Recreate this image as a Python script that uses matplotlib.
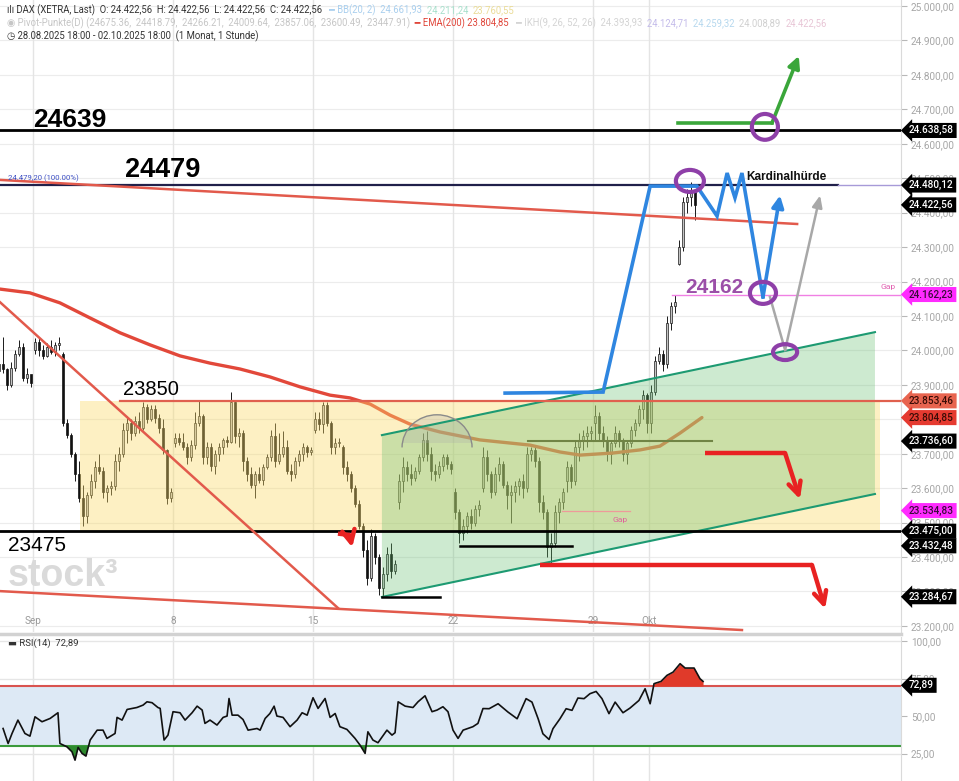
import numpy as np
import matplotlib.pyplot as plt
from matplotlib.patches import Ellipse, Arc, Polygon, Rectangle
from matplotlib.transforms import blended_transform_factory

plt.rcParams["font.family"] = ["Roboto", "DejaVu Sans"]

# ---------- data -------------------------------------------------------
# x axis in trading days, Sep 1 session start = 0, seven 2h bars per session
sessions = [(-2, 5, 2), (-1, 0, 7)] + [(d, 0, 7) for d in range(23)] + [(23, 0, 5)]

opens = [
    23940, 23960,                                           # 28.08
    23945, 23900, 23950, 23990, 24010, 23920, 23930,        # 29.08
    24000, 24025, 24000, 23985, 24010, 23995, 24015,        # 01.09
    23990, 23790, 23755, 23700, 23640, 23570, 23520,        # 02.09
    23580, 23620, 23660, 23650, 23590, 23600, 23605,        # 03.09
    23680, 23700, 23770, 23790, 23760, 23795, 23775,        # 04.09
    23835, 23800, 23830, 23805, 23775, 23710, 23570,        # 05.09
    23730, 23745, 23735, 23720, 23690, 23725, 23790,        # 08.09
    23810, 23690, 23720, 23665, 23700, 23720, 23740,        # 09.09
    23735, 23850, 23750, 23760, 23680, 23640, 23610,        # 10.09
    23640, 23625, 23660, 23690, 23750, 23680, 23700,        # 11.09
    23720, 23650, 23640, 23680, 23700, 23720, 23705,        # 12.09
    23770, 23800, 23785, 23840, 23790, 23720, 23730,        # 15.09
    23720, 23660, 23640, 23600, 23555, 23490, 23420,        # 16.09
    23340, 23460, 23400, 23310, 23350, 23410, 23360,        # 17.09
    23560, 23620, 23660, 23640, 23630, 23650, 23690,        # 18.09
    23740, 23700, 23650, 23640, 23665, 23690, 23670,        # 19.09
    23590, 23530, 23470, 23490, 23520, 23500, 23540,        # 22.09
    23600, 23690, 23640, 23590, 23640, 23670, 23610,        # 23.09
    23580, 23590, 23605, 23620, 23600, 23700, 23710,        # 24.09
    23680, 23560, 23530, 23430, 23440, 23530, 23560,        # 25.09
    23620, 23660, 23620, 23720, 23740, 23750, 23760,        # 26.09
    23790, 23810, 23760, 23740, 23700, 23730, 23760,        # 29.09
    23740, 23700, 23730, 23770, 23790, 23830, 23870,        # 30.09
    23790, 23880, 23970, 23990, 23960, 24080, 24130,        # 01.10
    24250, 24300, 24430, 24445, 24460,                      # 02.10
]
highs = [
    23990, 24040,
    23950, 23965, 24000, 24030, 24020, 23950, 23920,
    24035, 24040, 24015, 24020, 24030, 24025, 24040,
    23995, 23800, 23760, 23705, 23680, 23610, 23590,
    23640, 23680, 23700, 23660, 23610, 23620, 23700,
    23720, 23790, 23810, 23800, 23810, 23820, 23850,
    23845, 23840, 23840, 23815, 23800, 23715, 23600,
    23760, 23760, 23760, 23730, 23740, 23820, 23855,
    23815, 23735, 23730, 23710, 23730, 23745, 23750,
    23880, 23855, 23775, 23770, 23690, 23660, 23650,
    23660, 23670, 23700, 23770, 23790, 23760, 23765,
    23740, 23670, 23690, 23710, 23730, 23725, 23720,
    23820, 23820, 23850, 23850, 23795, 23745, 23745,
    23725, 23680, 23650, 23610, 23565, 23500, 23450,
    23480, 23470, 23410, 23370, 23430, 23440, 23390,
    23640, 23690, 23680, 23670, 23660, 23700, 23760,
    23765, 23720, 23670, 23680, 23700, 23700, 23680,
    23600, 23540, 23510, 23530, 23540, 23550, 23565,
    23720, 23710, 23650, 23660, 23690, 23680, 23620,
    23610, 23620, 23630, 23640, 23720, 23720, 23720,
    23690, 23580, 23540, 23470, 23550, 23570, 23600,
    23680, 23670, 23740, 23760, 23770, 23780, 23780,
    23840, 23820, 23780, 23750, 23740, 23780, 23770,
    23745, 23740, 23780, 23800, 23840, 23885, 23875,
    23900, 23985, 24010, 24000, 24100, 24140, 24162,
    24320, 24445, 24470, 24490, 24470,
]
lows = [
    23925, 23935,
    23885, 23895, 23940, 23985, 23910, 23905, 23895,
    23990, 23985, 23975, 23980, 23990, 23985, 24000,
    23780, 23745, 23690, 23620, 23560, 23490, 23500,
    23570, 23600, 23640, 23570, 23560, 23580, 23595,
    23650, 23690, 23730, 23740, 23750, 23760, 23770,
    23790, 23795, 23790, 23760, 23700, 23555, 23560,
    23720, 23725, 23710, 23670, 23680, 23715, 23780,
    23670, 23670, 23650, 23640, 23680, 23700, 23720,
    23730, 23730, 23720, 23650, 23620, 23600, 23570,
    23615, 23610, 23655, 23680, 23660, 23670, 23690,
    23640, 23620, 23630, 23665, 23680, 23690, 23695,
    23760, 23770, 23760, 23780, 23700, 23700, 23720,
    23640, 23620, 23590, 23545, 23480, 23400, 23320,
    23330, 23380, 23290, 23285, 23330, 23340, 23350,
    23540, 23590, 23620, 23610, 23620, 23640, 23680,
    23680, 23625, 23620, 23630, 23650, 23655, 23640,
    23510, 23440, 23450, 23470, 23480, 23490, 23520,
    23590, 23620, 23570, 23580, 23620, 23600, 23540,
    23500, 23560, 23580, 23570, 23590, 23680, 23660,
    23530, 23510, 23400, 23380, 23430, 23500, 23540,
    23590, 23600, 23610, 23680, 23710, 23720, 23740,
    23740, 23740, 23720, 23680, 23670, 23720, 23720,
    23680, 23670, 23720, 23750, 23780, 23800, 23760,
    23760, 23870, 23960, 23940, 23950, 24060, 24110,
    24248, 24290, 24400, 24420, 24380,
]
closes = [
    23960, 23945,
    23900, 23950, 23990, 24010, 23920, 23930, 23905,
    24025, 24000, 23985, 24010, 23995, 24015, 24020,
    23790, 23755, 23700, 23640, 23570, 23520, 23580,
    23620, 23660, 23650, 23590, 23600, 23605, 23680,
    23700, 23770, 23790, 23760, 23795, 23775, 23835,
    23800, 23830, 23805, 23775, 23710, 23570, 23590,
    23745, 23735, 23720, 23690, 23725, 23790, 23810,
    23690, 23720, 23665, 23700, 23720, 23740, 23735,
    23850, 23750, 23760, 23680, 23640, 23610, 23640,
    23625, 23660, 23690, 23750, 23680, 23700, 23720,
    23650, 23640, 23680, 23700, 23720, 23705, 23710,
    23800, 23785, 23840, 23790, 23720, 23730, 23735,
    23660, 23640, 23600, 23555, 23490, 23420, 23340,
    23460, 23400, 23310, 23350, 23410, 23360, 23380,
    23620, 23660, 23640, 23630, 23650, 23690, 23740,
    23700, 23650, 23640, 23665, 23690, 23670, 23655,
    23530, 23470, 23490, 23520, 23500, 23540, 23550,
    23690, 23640, 23590, 23640, 23670, 23610, 23580,
    23590, 23605, 23620, 23600, 23700, 23710, 23680,
    23560, 23530, 23430, 23440, 23530, 23560, 23590,
    23660, 23620, 23720, 23740, 23750, 23760, 23765,
    23810, 23760, 23740, 23700, 23730, 23760, 23740,
    23700, 23730, 23770, 23790, 23830, 23870, 23790,
    23880, 23970, 23990, 23960, 24080, 24130, 24140,
    24300, 24430, 24445, 24460, 24422.56,
]

ema_x = [-1.18, -0.11, 0.96, 2.04, 3.11, 4.18, 5.25, 6.32, 7.39, 8.46, 9.54, 10.61,
         11.32, 12.04, 12.75, 13.46, 14.54, 15.96, 17.75, 18.82, 19.54, 20.71,
         21.68, 22.39, 23.11, 23.89]
ema_v = [24178, 24167, 24138, 24094, 24051, 24016, 23984, 23963, 23946, 23923, 23894, 23870,
         23862, 23844, 23812, 23786, 23763, 23740, 23725, 23705, 23696, 23702,
         23711, 23722, 23760, 23805]

rsi_x = [-1.07, -0.89, -0.75, -0.54, -0.29, -0.11, 0.07, 0.32, 0.61, 0.89,
         0.96, 1.21, 1.39, 1.5, 1.61, 1.75, 1.89, 2.04, 2.29, 2.5,
         2.64, 2.93, 3.0, 3.18, 3.36, 3.71, 3.93, 4.07, 4.25, 4.46,
         4.54, 4.68, 4.82, 5.0, 5.25, 5.43, 5.68, 5.86, 6.04, 6.14,
         6.32, 6.57, 6.79, 6.93, 7.0, 7.11, 7.32, 7.5, 7.68, 8.0,
         8.11, 8.29, 8.46, 8.61, 8.71, 8.93, 9.18, 9.43, 9.61, 9.79,
         10.0, 10.18, 10.43, 10.61, 10.79, 10.96, 11.21, 11.5, 11.68, 11.86,
         11.96, 12.14, 12.32, 12.64, 12.82, 12.93, 13.04, 13.29, 13.57, 13.75,
         14.0, 14.25, 14.43, 14.64, 14.82, 15.0, 15.18, 15.36, 15.71, 15.89,
         16.07, 16.29, 16.61, 16.96, 17.29, 17.61, 17.82, 18.04, 18.21, 18.43,
         18.57, 18.82, 19.04, 19.25, 19.46, 19.68, 19.89, 20.11, 20.32, 20.57,
         20.79, 21.07, 21.32, 21.64, 21.86, 22.04, 22.18, 22.43, 22.64, 22.86,
         23.11, 23.29, 23.61, 23.82, 23.93]
rsi_v = [41.7, 31.7, 38.4, 47.3, 38.4, 36.6, 49.5, 46.2, 48.4, 52.2,
         31.7, 29.5, 26.2, 20.6, 29.1, 25.1, 23.3, 34.0, 40.6, 40.6,
         35.1, 38.4, 49.1, 47.3, 54.4, 55.7, 57.3, 59.5, 58.9, 55.7,
         55.1, 34.0, 37.3, 52.9, 52.2, 47.3, 52.2, 56.6, 54.0, 45.1,
         47.3, 44.0, 49.1, 50.0, 61.7, 50.6, 50.6, 47.7, 40.6, 41.7,
         40.6, 48.4, 51.7, 56.6, 50.0, 49.1, 42.9, 47.3, 52.2, 50.6,
         62.2, 55.1, 61.7, 49.1, 51.7, 42.9, 41.1, 35.1, 30.6, 25.1,
         39.5, 34.0, 32.2, 40.6, 37.3, 38.9, 59.5, 56.6, 55.7, 59.5,
         63.5, 52.9, 54.0, 56.2, 52.9, 40.6, 35.1, 40.6, 42.9, 45.1,
         55.0, 54.9, 58.2, 52.7, 48.2, 61.6, 59.3, 48.2, 38.2, 34.4,
         41.6, 48.2, 54.9, 53.8, 62.0, 61.6, 64.9, 66.4, 61.6, 51.6,
         59.3, 52.2, 55.3, 60.4, 68.2, 58.2, 71.6, 73.1, 77.1, 79.3,
         84.9, 82.0, 82.0, 74.9, 73.1]

# levels and drawings (trading-day x, price y)
date_ticks_x = [0, 5, 10, 15, 20, 22]
date_ticks_lbl = ["Sep", "8", "15", "22", "29", "Okt"]
price_ticks = [p for p in range(23200, 25001, 100) if p != 23800]
rsi_ticks = [100, 75, 50, 25]
badge_vals = [24638.58, 24480.12, 24422.56, 24162.23, 23853.46, 23804.85,
              23736.60, 23534.83, 23475.00, 23432.48, 23284.67]
badge_bg = ["black", "black", "black", "#ff2bff", "#e8644f", "#e53a30",
            "black", "#ff2bff", "black", "black", "black"]
badge_fg = ["white", "white", "white", "#3a0a3a", "#3a0c06", "#3a0c06",
            "white", "#3a0a3a", "white", "white", "white"]

X0, X1 = -1.18, 31.0
Y0, Y1 = 23182.3, 25017.4

fig = plt.figure(figsize=(9.59, 7.81), dpi=100)
ax = fig.add_axes([0, 1 - 632 / 781, 901 / 959, 632 / 781])
rx = fig.add_axes([0, 0, 901 / 959, 144 / 781])

# ---------- main panel -------------------------------------------------
ax.set_xlim(X0, X1)
ax.set_ylim(Y0, Y1)
for p in range(23200, 25001, 100):
    ax.axhline(p, color="#ececec", lw=0.8, zorder=0)
for x in date_ticks_x:
    ax.axvline(x, color="#e4e4e4", lw=1.0, zorder=0)
    rx.axvline(x, color="#e4e4e4", lw=1.0, zorder=0)
for x, s in zip(date_ticks_x, date_ticks_lbl):
    ax.text(x, 23214, s, ha="center", va="center", fontsize=7.2, color="#9a9a9a", zorder=1)

xs = np.array([d + (s + 0.5) / 7 for d, first, n in sessions for s in range(first, first + n)])
o, h, l, c = map(np.array, (opens, highs, lows, closes))
up = c >= o
ax.vlines(xs, l, h, color="#1a1a1a", lw=0.7, zorder=2)
ax.bar(xs[up], np.maximum(c - o, 2)[up], bottom=o[up], width=0.09,
       color="#c4c4c4", edgecolor="#1a1a1a", lw=0.5, zorder=2.1)
ax.bar(xs[~up], np.maximum(o - c, 2)[~up], bottom=c[~up], width=0.09,
       color="#111111", edgecolor="#111111", lw=0.5, zorder=2.1)

ax.plot(ema_x, ema_v, color="#e2483a", lw=2.4, zorder=2.5, solid_capstyle="round",
        solid_joinstyle="round")

# range box and rising channel
ax.fill_between([1.68, 30.25], 23475, 23853.46, color=(250 / 255, 218 / 255, 105 / 255),
                alpha=0.4, lw=0, zorder=3)
chan_top = [(12.46, 23754), (30.07, 24053)]
chan_bot = [(12.46, 23284), (30.07, 23583)]
ax.add_patch(Polygon(chan_top + chan_bot[::-1], closed=True, fc=(100 / 255, 190 / 255, 110 / 255),
                     alpha=0.32, lw=0, zorder=3.1))
for seg in (chan_top, chan_bot):
    ax.plot(*zip(*seg), color="#1d9a72", lw=1.5, zorder=4)

# horizontal levels
ax.axhline(24638.58, color="black", lw=2, zorder=4)
ax.plot([X0, 28.75], [24480.12] * 2, color="#20204a", lw=1.6, zorder=4)
ax.plot([28.75, X1], [24480.12] * 2, color="#a79ad8", lw=1.0, zorder=4)
ax.plot([3.11, X1], [23853.46] * 2, color="#e0604e", lw=1.6, zorder=4)
ax.axhline(23475, color="black", lw=2, zorder=4)
ax.plot([15.25, 19.25], [23432.48] * 2, color="black", lw=1.8, zorder=4)
ax.plot([12.46, 14.54], [23284.67] * 2, color="black", lw=1.8, zorder=4)
ax.plot([17.68, 24.25], [23736.60] * 2, color="#202010", lw=1.5, zorder=2.6)
ax.plot([22.82, X1], [24162.23] * 2, color="#f080e4", lw=1.0, zorder=4)
ax.plot([18.89, 21.32], [23534.83] * 2, color="#ee9a9a", lw=0.9, zorder=4)
ax.text(20.96, 23508, "Gap", color="#e0609a", fontsize=6, ha="center", va="center", zorder=6)
ax.text(30.25, 24184, "Gap", color="#e060b0", fontsize=6, ha="left", va="center", zorder=6)

# trend lines
ax.plot([X0, 10.89], [24140, 23252], color="#e25a4c", lw=1.8, zorder=4)
ax.plot([X0, 25.32], [23301, 23188], color="#e25a4c", lw=1.8, zorder=4)
ax.plot([X0, 27.29], [24495, 24367], color="#e25a4c", lw=1.8, zorder=4)

# gray rounding dome
dome_c, dome_w, dome_h = (14.43, 23718), 2.5, 190
ax.add_patch(Arc(dome_c, dome_w, dome_h, theta1=8, theta2=172, color="#8a8a8a", lw=1.0, zorder=4))
dome = Ellipse(dome_c, dome_w, dome_h, fc="#a8a8a8", alpha=0.25, lw=0, zorder=3.5)
ax.add_patch(dome)
dome.set_clip_path(Rectangle((dome_c[0] - dome_w, dome_c[1] + 12), 2 * dome_w, dome_h,
                             transform=ax.transData))

# scenario paths
blue = [(16.86, 23876), (20.36, 23879), (22.04, 24477), (23.71, 24477), (24.43, 24390),
        (24.79, 24515), (25.07, 24443), (25.32, 24515), (26.07, 24155)]
ax.plot(*zip(*blue), color="#2f86e0", lw=2.6, zorder=5, solid_joinstyle="miter")
ax.annotate("", xy=(26.68, 24450), xytext=(26.07, 24155),
            arrowprops=dict(arrowstyle="-|>,head_width=0.35,head_length=0.7", color="#2f86e0", lw=2.6,
                            shrinkA=0, shrinkB=0), zorder=5)
ax.plot([26.32, 26.86], [24155, 24001], color="#a8a8a8", lw=1.8, zorder=5)
ax.annotate("", xy=(28.11, 24450), xytext=(26.86, 24001),
            arrowprops=dict(arrowstyle="-|>,head_width=0.3,head_length=0.7", color="#a8a8a8", lw=1.8,
                            shrinkA=0, shrinkB=0), zorder=5)
ax.plot([23.04, 26.39], [24660, 24660], color="#3aa63a", lw=2.6, zorder=5)
ax.annotate("", xy=(27.35, 24855), xytext=(26.39, 24660),
            arrowprops=dict(arrowstyle="-|>,head_width=0.35,head_length=0.7", color="#3aa63a", lw=2.6,
                            shrinkA=0, shrinkB=0), zorder=5)
for (xa, ya), (xb, yb), (xc, yc) in [((24.0, 23702), (26.86, 23702), (27.39, 23568)),
                                     ((18.11, 23377), (27.82, 23377), (28.29, 23250)),
                                     ((10.89, 23468), (11.3, 23464), (11.4, 23428))]:
    ax.plot([xa, xb], [ya, yb], color="#e82222", lw=3.2, zorder=5, solid_capstyle="butt")
    ax.annotate("", xy=(xc, yc), xytext=(xb, yb),
                arrowprops=dict(arrowstyle="->,head_width=0.45,head_length=0.9", color="#e82222",
                                lw=3.2, shrinkA=0, shrinkB=0), zorder=5)

for cx, cy, w, hh in [(26.14, 24649, 0.93, 75), (23.46, 24492, 1.0, 64),
                      (26.07, 24167, 0.93, 64), (26.86, 23995, 0.86, 46)]:
    ax.add_patch(Ellipse((cx, cy), w, hh, fill=False, ec="#8e3fa8", lw=3, zorder=6))

# labels
big = dict(family="Liberation Sans", color="black", ha="left", va="center", zorder=6)
ax.text(0.0, 24669, "24639", fontsize=19, fontweight="bold", **big)
ax.text(3.29, 24524, "24479", fontsize=19.5, fontweight="bold", **big)
ax.text(3.21, 23885, "23850", fontsize=14.5, **big)
ax.text(-0.89, 23433, "23475", fontsize=15, **big)
ax.text(23.29, 24184, "24162", fontsize=15, fontweight="bold", family="Liberation Sans",
        color="#9b4fa8", ha="left", va="center", zorder=6)
ax.text(25.46, 24504, "Kardinalhürde", fontsize=8.5, fontweight="bold", family="Liberation Sans",
        color="#111111", ha="left", va="center", zorder=6)
ax.text(-0.89, 24501, "24.479,20 (100.00%)", fontsize=5.6, color="#3d4fc4", ha="left",
        va="center", zorder=6)
ax.text(-0.89, 23345, "stock\u00b3", fontsize=27, fontweight="bold", family="Liberation Sans",
        color="#dadada", ha="left", va="center", zorder=1.5)


def de(v, nd=2):
    return f"{v:,.{nd}f}".replace(",", "X").replace(".", ",").replace("X", ".")


ax.yaxis.tick_right()
ax.set_yticks(price_ticks, [de(v) for v in price_ticks])
ax.tick_params(axis="y", labelsize=7.2, labelcolor="#a6a6a6", color="#b8b8b8", length=4, width=0.8, pad=3)
ax.set_xticks([])
for s in ("top", "left", "bottom"):
    ax.spines[s].set_visible(False)
ax.spines["right"].set_color("#dadada")

tr = blended_transform_factory(ax.transAxes, ax.transData)
for v, bg, fg in zip(badge_vals, badge_bg, badge_fg):
    ax.text(1.009, v, de(v), transform=tr, ha="left", va="center", color=fg, fontsize=7.2,
            fontweight="medium", clip_on=False, zorder=10,
            bbox=dict(boxstyle="larrow,pad=0.25", fc=bg, ec="none"))

# header: coloured segments placed one after another on a common baseline
renderer = fig.canvas.get_renderer()


def chain(parts, x, y, size=6.85):
    for s, col in parts:
        t = fig.text(x / 959, 1 - y / 781, s, color=col, fontsize=size, ha="left", va="baseline")
        x = t.get_window_extent(renderer).x1


chain([("ılı DAX (XETRA, Last)  O: 24.422,56  H: 24.422,56  L: 24.422,56  C: 24.422,56", "#333333"),
       ("   ━ BB(20, 2)  24.661,93  ", "#a9cfee"), ("24.211,24  ", "#a8e0cc"), ("23.760,55", "#eadc98")],
      7, 13)
chain([("◉ Pivot-Punkte(D) (24675.36,  24418.79,  24266.21,  24009.64,  23857.06,  23600.49,  23447.91)",
        "#c6c6c6"), ("  ━ EMA(200) 23.804,85", "#e0463a"),
       ("   ━ IKH(9, 26, 52, 26)  24.393,93  ", "#d4d4d4"), ("24.124,71  ", "#c4bcea"),
       ("24.259,32  ", "#b6d8ee"), ("24.008,89  ", "#d0d0d0"), ("24.422,56", "#e8c6d6")],
      7, 26)
chain([("◷ 28.08.2025 18:00 - 02.10.2025 18:00  (1 Monat, 1 Stunde)", "#333333")], 7, 39)

fig.add_artist(plt.Line2D([0, 901 / 959], [1 - 634 / 781] * 2, color="#d2d2d2", lw=2.5))

# ---------- RSI panel --------------------------------------------------
rx.set_xlim(X0, X1)
rx.set_ylim(6.7, 102.7)
for v in rsi_ticks:
    rx.axhline(v, color="#e6e6e6", lw=1.0, zorder=0)
rx.axhspan(30, 70, color="#dde9f5", lw=0, zorder=0.5)
rx.axhline(70, color="#d9534f", lw=1.5, zorder=2)
rx.axhline(30, color="#3c9a3c", lw=1.5, zorder=2)
rv = np.array(rsi_v)
rx.fill_between(rsi_x, 70, rv, where=rv > 70, interpolate=True, color="#e03a2a", lw=0, zorder=2.5)
rx.fill_between(rsi_x, 30, rv, where=rv < 30, interpolate=True, color="#2e8b2e", lw=0, zorder=2.5)
rx.plot(rsi_x, rsi_v, color="#111111", lw=1.2, zorder=3)
rx.text(-0.9, 98.5, "▬ RSI(14)  72,89", fontsize=6.8, color="#333333", ha="left", va="center")

rx.yaxis.tick_right()
rx.set_yticks(rsi_ticks, [de(v) for v in rsi_ticks])
rx.tick_params(axis="y", labelsize=7.2, labelcolor="#a6a6a6", color="#b8b8b8", length=4, width=0.8, pad=3)
rx.set_xticks([])
for s in ("top", "left", "bottom"):
    rx.spines[s].set_visible(False)
rx.spines["right"].set_color("#dadada")
trr = blended_transform_factory(rx.transAxes, rx.transData)
rx.text(1.009, 70.5, "72,89", transform=trr, ha="left", va="center", color="white", fontsize=7.2,
        fontweight="medium", clip_on=False, zorder=10,
        bbox=dict(boxstyle="larrow,pad=0.25", fc="black", ec="none"))

fig.savefig("out.png", dpi=100)
